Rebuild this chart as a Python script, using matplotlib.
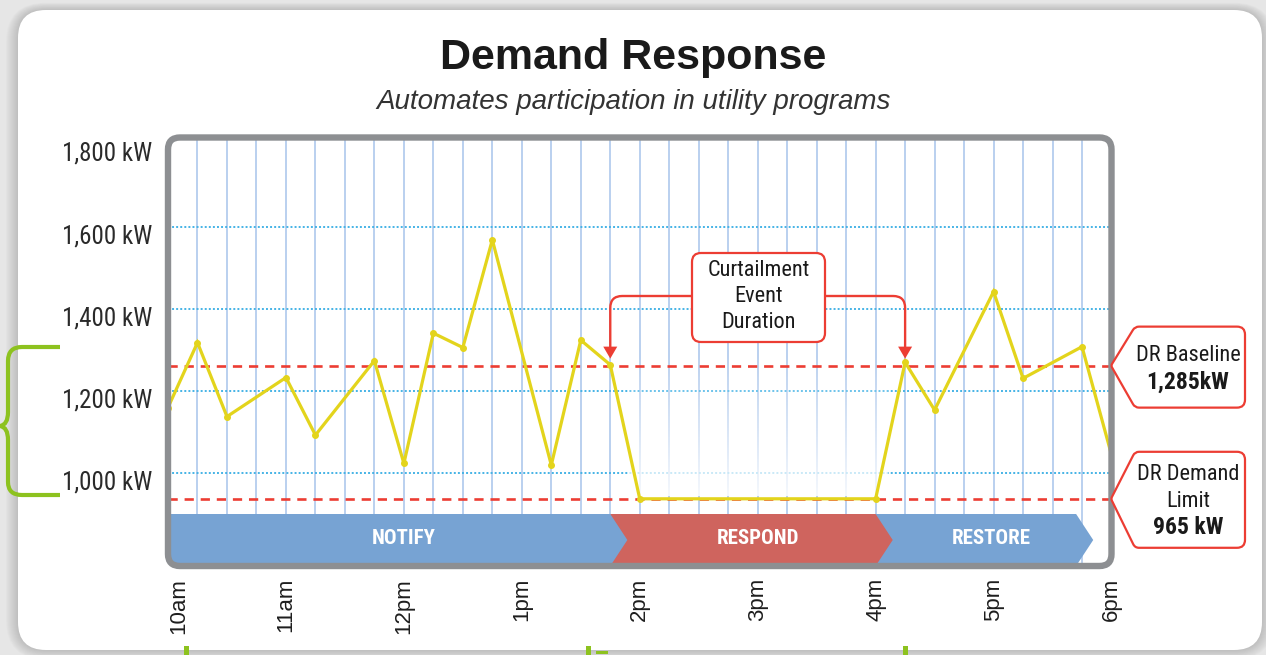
import numpy as np
import matplotlib
matplotlib.use("Agg")
import matplotlib.pyplot as plt
import matplotlib.transforms as mtransforms
from matplotlib.patches import FancyBboxPatch, Polygon, PathPatch, Rectangle
from matplotlib.path import Path
from matplotlib import font_manager

W, H = 1266, 655

# ---- data ----
times = [10, 10.25, 10.5, 11, 11.25, 11.75, 12, 12.25, 12.5, 12.75, 13.25, 13.5,
         13.75, 14, 16, 16.25, 16.5, 17, 17.25, 17.75, 18]
load_kw = [1160, 1318, 1138, 1233, 1093, 1274, 1024, 1341, 1306, 1568, 1020, 1324,
           1264, 938, 938, 1270, 1154, 1442, 1231, 1308, 1045]
baseline_kw = 1262        # where the dashed line is drawn
limit_kw = 938
baseline_text = ["DR Baseline", "1,285kW"]
limit_text = ["DR Demand", "Limit", "965 kW"]
y_ticks = [1000, 1200, 1400, 1600, 1800]
y_labels = ["1,000 kW", "1,200 kW", "1,400 kW", "1,600 kW", "1,800 kW"]
x_ticks = [10, 11, 12, 13, 14, 15, 16, 17, 18]
x_labels = ["10am", "11am", "12pm", "1pm", "2pm", "3pm", "4pm", "5pm", "6pm"]
phases = ["NOTIFY", "RESPOND", "RESTORE"]
phase_start = [10, 13.75, 16.0]
phase_end = [13.75, 16.0, 17.7]
phase_colors = ["#77a3d3", "#cf645e", "#77a3d3"]
event_start, event_end = 13.75, 16.25
event_text = ["Curtailment", "Event", "Duration"]

names = {f.name for f in font_manager.fontManager.ttflist}


def pick(*cands):
    for c in cands:
        if c in names:
            return c
    return "DejaVu Sans"


NARROW = pick("Roboto Condensed", "Liberation Sans Narrow", "Liberation Sans")
SANS = pick("Liberation Sans", "Arial", "DejaVu Sans")
RED = "#ec3d33"

fig = plt.figure(figsize=(W / 100, H / 100), dpi=100)
fig.patch.set_facecolor("#e6e6e6")

# background card
bg = fig.add_axes([0, 0, 1, 1], zorder=0)
bg.set_xlim(0, W)
bg.set_ylim(H, 0)
bg.axis("off")
for k in range(12, 0, -1):
    bg.add_patch(FancyBboxPatch((18 - k, 10 - k * 0.6), 1244 + 2 * k, 640 + 1.4 * k,
                                boxstyle="round,pad=0,rounding_size=%d" % (28 + k),
                                fc="#8a8a8a", ec="none", alpha=0.035))
bg.add_patch(FancyBboxPatch((18, 10), 1244, 640, boxstyle="round,pad=0,rounding_size=28",
                            fc="white", ec="none"))

# chart axes
x0, x1, y0, y1 = 168, 1111.5, 137.5, 566
ax = fig.add_axes([x0 / W, 1 - y1 / H, (x1 - x0) / W, (y1 - y0) / H], zorder=2)
ax.set_xlim(10, 18)
ax.set_ylim(774.5, 1817)
for s in ax.spines.values():
    s.set_visible(False)

ax.vlines(np.arange(10, 18.01, 0.25), 774.5, 1817, color="#b4cdee", lw=1.3, zorder=1)
ax.hlines(y_ticks[:-1], 10, 18, color="#45b3e6", lw=1.4, linestyles=(0, (1, 1.1)), zorder=1)

# faded area during the event
fade = np.ones((50, 2, 4))
fade[:, :, 3] = np.linspace(0.85, 0.0, 50)[:, None]
ax.imshow(fade, extent=[13.9, 16.1, 945, 1290], origin="lower", aspect="auto", zorder=1.5)

ax.axhline(baseline_kw, color=RED, lw=1.9, dashes=(3.5, 2.6), zorder=2)
ax.axhline(limit_kw, color=RED, lw=1.9, dashes=(3.5, 2.6), zorder=2)

# phase chevrons
band_lo, band_hi = 774.5, 901
tip = 0.145
for i in [2, 1, 0]:
    xs, xe = phase_start[i], phase_end[i]
    mid = (band_lo + band_hi) / 2
    ax.add_patch(Polygon([(xs, band_lo), (xe, band_lo), (xe + tip, mid), (xe, band_hi), (xs, band_hi)],
                         closed=True, fc=phase_colors[i], ec="none", zorder=3 + (2 - i) * 0.1))
    cx = (xs + xe) / 2 + (0.13 if i else 0.12)
    ax.text(cx, 842, phases[i], color="white", fontsize=15, fontweight="bold",
            family=NARROW, ha="center", va="center", zorder=4)

ax.plot(times, load_kw, color="#e3d41c", lw=2.3, marker="o", ms=4, zorder=5,
        solid_joinstyle="miter")

ax.set_xticks(x_ticks)
ax.set_xticklabels(x_labels, rotation=90, fontsize=16, family=SANS, color="#1e1e1e")
ax.set_yticks(y_ticks)
ax.set_yticklabels(y_labels, fontsize=18, family=NARROW, color="#2a2a2a")
ax.tick_params(length=0)
ax.tick_params(axis="x", pad=8.5)
ax.tick_params(axis="y", pad=11.5)
ax.get_xticklabels()[0].set_ha("left")
off = mtransforms.ScaledTranslation(0, -7 / 100, fig.dpi_scale_trans)
for lab in ax.get_yticklabels():
    lab.set_transform(lab.get_transform() + off)

ax.set_xlim(10, 18)
ax.set_ylim(774.5, 1817)


def to_px(x, y):
    X, Y = ax.transData.transform((x, y))
    return X, H - Y


def rounded_path(pts, radii):
    verts, codes = [], []
    n = len(pts)
    for i in range(n):
        p = np.array(pts[i], float)
        pr = np.array(pts[i - 1], float)
        nx = np.array(pts[(i + 1) % n], float)
        a = p + (pr - p) / np.linalg.norm(pr - p) * radii[i]
        b = p + (nx - p) / np.linalg.norm(nx - p) * radii[i]
        verts += [a, p, b]
        codes += [Path.MOVETO if i == 0 else Path.LINETO, Path.CURVE3, Path.CURVE3]
    verts.append(verts[0])
    codes.append(Path.CLOSEPOLY)
    return Path(verts, codes)


# overlay for frame and callouts
top = fig.add_axes([0, 0, 1, 1], zorder=3)
top.set_xlim(0, W)
top.set_ylim(H, 0)
top.axis("off")

frame = FancyBboxPatch((x0, y0), x1 - x0, y1 - y0, boxstyle="round,pad=0,rounding_size=12",
                       fc="none", ec="#8d8f92", lw=4.6, zorder=1)
top.add_patch(frame)
for art in list(ax.lines) + list(ax.collections) + list(ax.patches) + list(ax.images):
    art.set_clip_path(frame)

# right callouts
_, yb = to_px(18, baseline_kw)
_, yl = to_px(18, limit_kw)
for ty, up, dn, lines, offs in [(yb, 39, 42, baseline_text, [-10, 17]),
                                (yl, 47, 49, limit_text, [-24, 3, 29])]:
    pts = [(1111, ty), (1135, ty - up), (1245, ty - up), (1245, ty + dn), (1135, ty + dn)]
    top.add_patch(PathPatch(rounded_path(pts, [2, 4, 8, 8, 4]), fc="white", ec=RED, lw=1.6, zorder=2))
    for j, (t, o) in enumerate(zip(lines, offs)):
        bold = j == len(lines) - 1
        top.text(1188, ty + o, t, ha="center", va="center", family=NARROW,
                 fontsize=17 if bold else 16, fontweight="bold" if bold else "normal",
                 color="#1a1a1a", zorder=3)

# curtailment box with arrows
xl, _ = to_px(event_start, baseline_kw)
xr, _ = to_px(event_end, baseline_kw)
tipy = yb - 7
ay = 296
for xa, xb in [(xl, 692), (xr, 825)]:
    sgn = 1 if xb > xa else -1
    p = Path([(xb, ay), (xa + sgn * 12, ay), (xa, ay), (xa, ay + 12), (xa, tipy - 10)],
             [Path.MOVETO, Path.LINETO, Path.CURVE3, Path.CURVE3, Path.LINETO])
    top.add_patch(PathPatch(p, fc="none", ec=RED, lw=1.7, zorder=2))
    top.add_patch(Polygon([(xa - 7, tipy - 12), (xa + 7, tipy - 12), (xa, tipy)],
                          closed=True, fc=RED, ec="none", zorder=2))
top.add_patch(FancyBboxPatch((692, 253), 133, 89, boxstyle="round,pad=0,rounding_size=9",
                             fc="white", ec=RED, lw=1.6, zorder=3))
for t, yy in zip(event_text, [270, 297, 323]):
    top.text(758.5, yy, t, ha="center", va="center", family=NARROW, fontsize=16,
             color="#1a1a1a", zorder=4)

# green brace on the left
brace = Path([(60, 347), (22, 347), (8, 347), (8, 361), (8, 412), (8, 425), (0, 426),
              (8, 427), (8, 440), (8, 482), (8, 495), (22, 495), (60, 495)],
             [Path.MOVETO, Path.LINETO, Path.CURVE3, Path.CURVE3, Path.LINETO, Path.CURVE3,
              Path.CURVE3, Path.CURVE3, Path.CURVE3, Path.LINETO, Path.CURVE3, Path.CURVE3,
              Path.LINETO])
top.add_patch(PathPatch(brace, fc="none", ec="#8dc21f", lw=3, zorder=2))
for gx in [184, 586, 903]:
    top.add_patch(Rectangle((gx, 646), 5, 10, fc="#8dc21f", ec="none", zorder=2))
top.add_patch(Rectangle((596, 651), 12, 3, fc="#8dc21f", ec="none", zorder=2))

fig.text(633 / W, 1 - 58 / H, "Demand Response", ha="center", va="center", family=SANS,
         fontsize=31, fontweight="bold", color="#1a1a1a")
fig.text(634 / W, 1 - 102 / H, "Automates participation in utility programs", ha="center",
         va="center", family=SANS, fontsize=20, style="italic", color="#333333")

fig.savefig("out.png", dpi=100, facecolor=fig.get_facecolor())
